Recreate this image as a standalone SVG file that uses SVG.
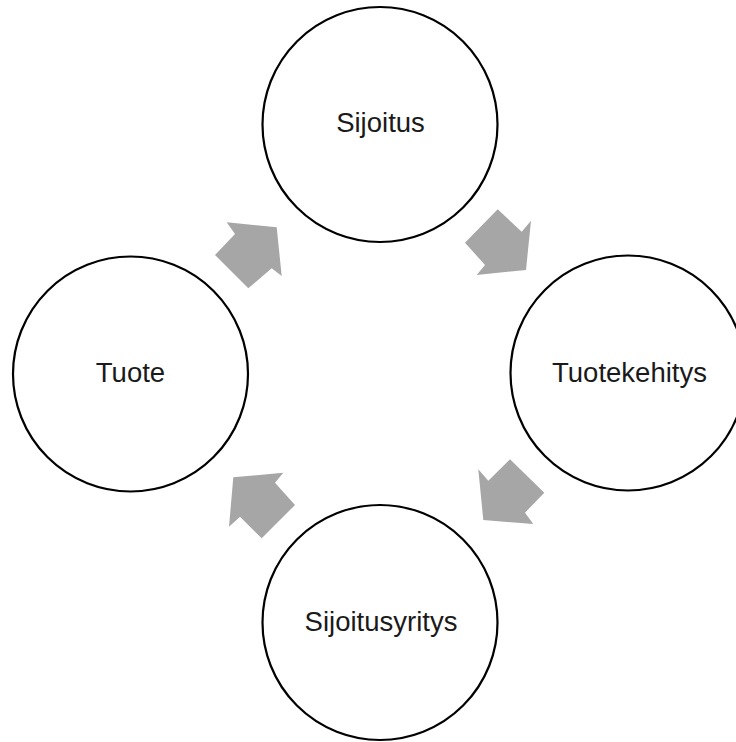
<svg xmlns="http://www.w3.org/2000/svg" width="736" height="742" viewBox="0 0 736 742">
<style>
.node circle{fill:#fff;stroke:#000;stroke-width:2.2}
.node text{font-family:"Liberation Sans",Arial,sans-serif;font-size:27.5px;fill:#1a1a1a;text-anchor:middle}
.arrow{fill:#a6a6a6;stroke:none}
</style>
<rect width="736" height="742" fill="#fff"/>
<g id="connectors">
<polygon class="arrow" points="226.7,222.3 276.7,227.3 281.7,276 271.7,268.3 248.3,288.3 215,255 235,234"/>
<polygon class="arrow" points="497.7,209.3 521.7,231.7 531,220.7 526,270 476.7,275 485,265 465,242.7"/>
<polygon class="arrow" points="510,459.3 544.3,492.7 525,512.7 533.3,524 483.3,520 478.3,469.3 488.3,480.7"/>
<polygon class="arrow" points="283.3,472.7 275,482.7 295,505 261.7,538.3 240,516.7 229,526.7 233.3,477.3"/>
</g>
<g id="node-sijoitus" class="node"><circle cx="380" cy="124.5" r="117.5"/><text x="380.5" y="132">Sijoitus</text></g>
<g id="node-tuotekehitys" class="node"><circle cx="628" cy="373" r="117.5"/><text x="629.5" y="381.5">Tuotekehitys</text></g>
<g id="node-sijoitusyritys" class="node"><circle cx="380" cy="622.5" r="117.5"/><text x="381" y="630.5">Sijoitusyritys</text></g>
<g id="node-tuote" class="node"><circle cx="130.5" cy="374" r="117.5"/><text x="130.5" y="381.5">Tuote</text></g>
</svg>
